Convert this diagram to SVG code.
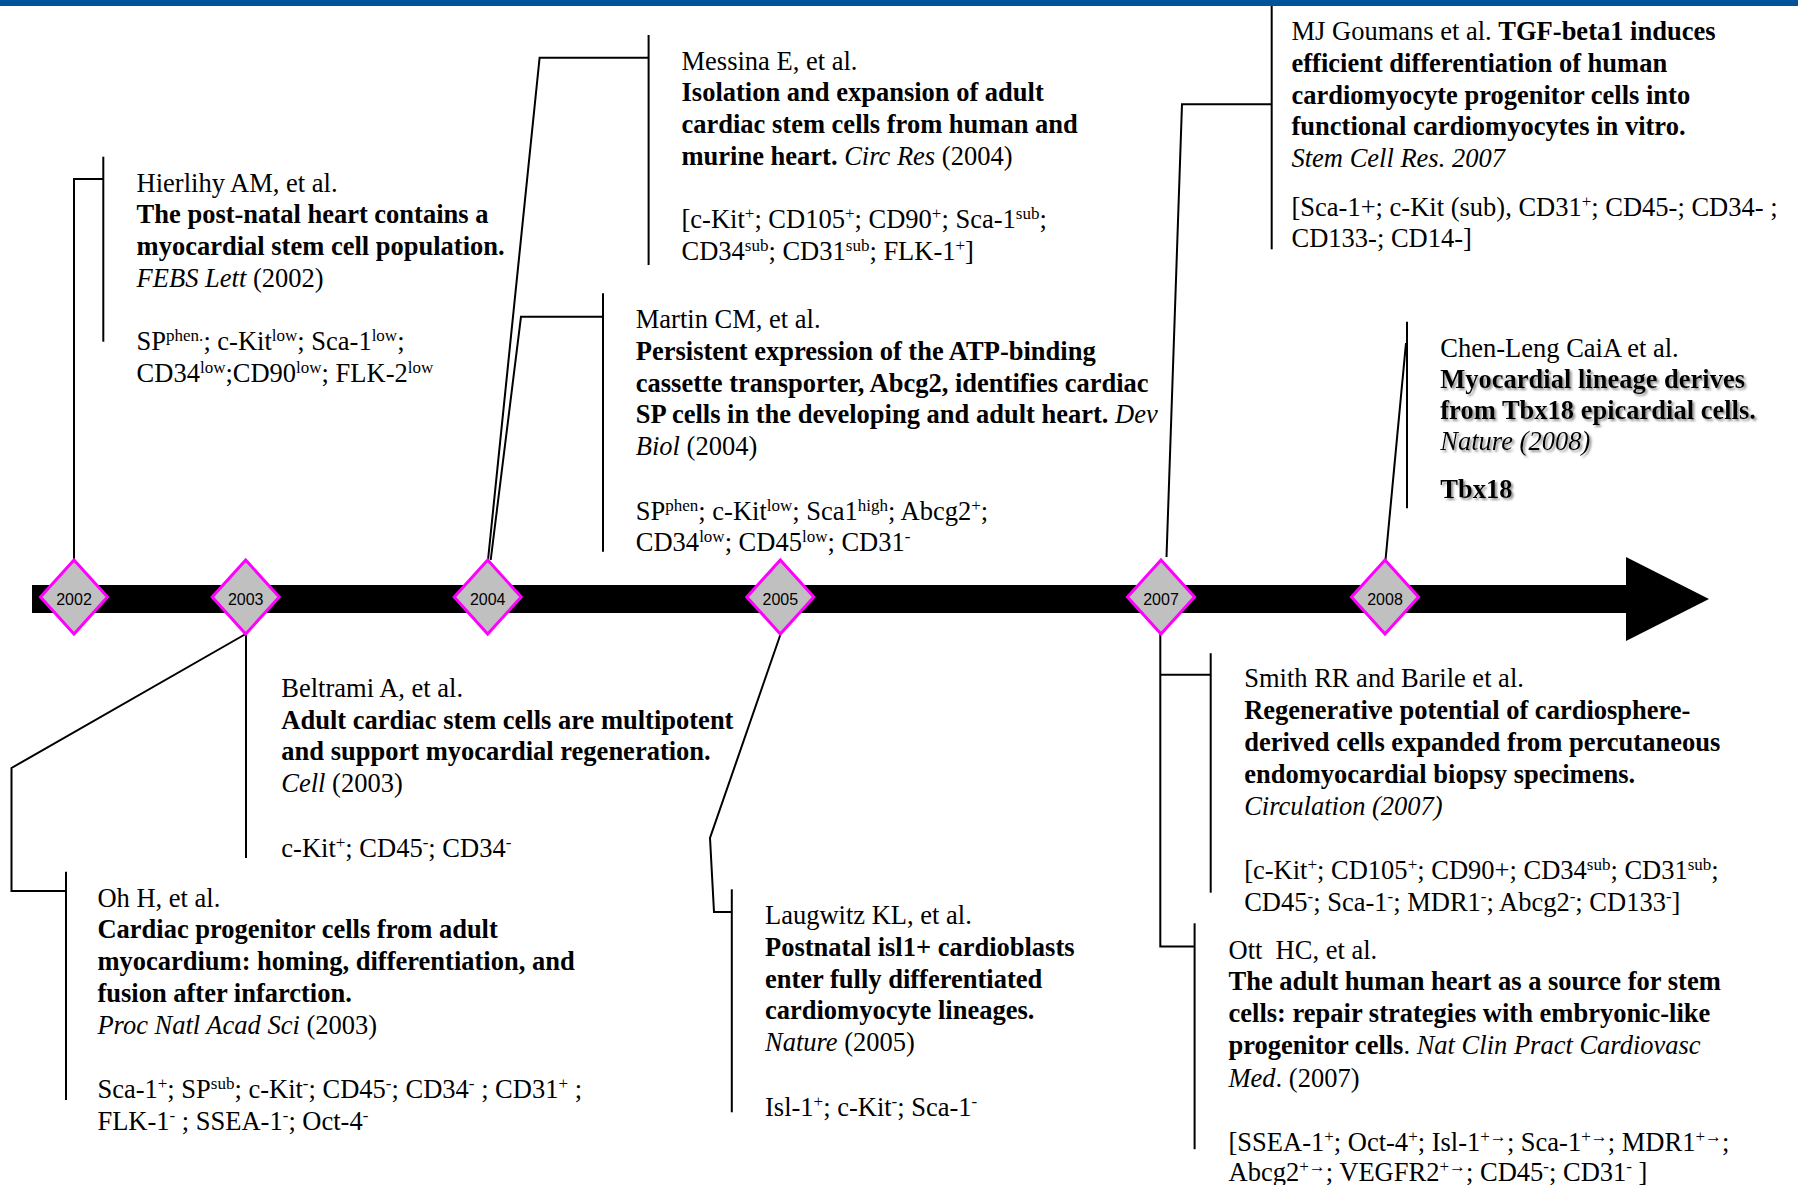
<svg xmlns="http://www.w3.org/2000/svg" xmlns:xlink="http://www.w3.org/1999/xlink" width="1798" height="1185" viewBox="0 0 1798 1185">
<style>
.t{font-family:"Liberation Serif","Times New Roman",serif;font-size:26.5px;fill:#000}
.b{font-weight:bold}
.i{font-style:italic}
.sup{font-size:17px;baseline-shift:9px}
.conn{fill:none;stroke:#000;stroke-width:2}
.dia{fill:#c0c0c0;stroke:#ff00ff;stroke-width:3}
.yr{font-family:"Liberation Sans",Arial,sans-serif;font-size:16px;text-anchor:middle;fill:#000}
.sh{filter:url(#shadow)}
</style>
<defs>
<polygon id="dm" points="0,-37 33.5,0 0,37 -33.5,0"/>
<filter id="shadow" x="-5%" y="-30%" width="110%" height="160%">
<feDropShadow dx="2" dy="2" stdDeviation="1" flood-color="#777" flood-opacity="0.8"/>
</filter>
</defs>
<rect x="0" y="0" width="1798" height="1185" fill="#fff"/>
<rect x="0" y="0" width="1798" height="6" fill="#00529b"/>

<g id="timeline">
<rect x="32" y="585" width="1594" height="28" fill="#000"/>
<polygon points="1626,557 1709,599 1626,641" fill="#000"/>
</g>

<g id="connectors">
<polyline class="conn" points="74,559 74,179 103.3,179"/>
<line class="conn" x1="103.3" y1="156.7" x2="103.3" y2="341.7"/>
<line class="conn" x1="246" y1="634" x2="246" y2="858"/>
<polyline class="conn" points="245.7,634 11.5,768 11.5,891 66,891"/>
<line class="conn" x1="66" y1="871.7" x2="66" y2="1100"/>
<polyline class="conn" points="488,560 539.6,57.7 648.6,57.7"/>
<line class="conn" x1="648.6" y1="35" x2="648.6" y2="265"/>
<polyline class="conn" points="490.7,560 521,316.7 603,316.7"/>
<line class="conn" x1="603" y1="293.3" x2="603" y2="551.7"/>
<polyline class="conn" points="782,630 710,838 714,912 731.8,912"/>
<line class="conn" x1="731.8" y1="889.3" x2="731.8" y2="1112.3"/>
<polyline class="conn" points="1166.5,557 1182,104.3 1271.7,104.3"/>
<line class="conn" x1="1271.7" y1="6" x2="1271.7" y2="249.3"/>
<polyline class="conn" points="1160.3,634 1160.3,946.6 1194.6,946.6"/>
<polyline class="conn" points="1160.3,674.8 1210.7,674.8"/>
<line class="conn" x1="1210.7" y1="653.2" x2="1210.7" y2="892.7"/>
<line class="conn" x1="1194.6" y1="923.3" x2="1194.6" y2="1149.2"/>
<line class="conn" x1="1385.5" y1="560" x2="1406" y2="343"/>
<line class="conn" x1="1407" y1="321.7" x2="1407" y2="508.3"/>
</g>

<g id="y2002"><use xlink:href="#dm" href="#dm" class="dia" x="74" y="597"/><text class="yr" x="74" y="605">2002</text></g>
<g id="y2003"><use xlink:href="#dm" href="#dm" class="dia" x="245.7" y="597"/><text class="yr" x="245.7" y="605">2003</text></g>
<g id="y2004"><use xlink:href="#dm" href="#dm" class="dia" x="487.7" y="597"/><text class="yr" x="487.7" y="605">2004</text></g>
<g id="y2005"><use xlink:href="#dm" href="#dm" class="dia" x="780.3" y="597"/><text class="yr" x="780.3" y="605">2005</text></g>
<g id="y2007"><use xlink:href="#dm" href="#dm" class="dia" x="1161" y="597"/><text class="yr" x="1161" y="605">2007</text></g>
<g id="y2008"><use xlink:href="#dm" href="#dm" class="dia" x="1385" y="597"/><text class="yr" x="1385" y="605">2008</text></g>

<g id="hierlihy" class="t" transform="translate(0 1.5)">
<text x="136.6" y="190">Hierlihy AM, et al.</text>
<text x="136.6" y="221.8" class="b">The post-natal heart contains a</text>
<text x="136.6" y="253.5" class="b">myocardial stem cell population.</text>
<text x="136.6" y="285.2"><tspan class="i">FEBS Lett</tspan> (2002)</text>
<text x="136.6" y="348.5">SP<tspan class="sup">phen.</tspan>; c-Kit<tspan class="sup">low</tspan>; Sca-1<tspan class="sup">low</tspan>;</text>
<text x="136.6" y="380.2">CD34<tspan class="sup">low</tspan>;CD90<tspan class="sup">low</tspan>; FLK-2<tspan class="sup">low</tspan></text>
</g>

<g id="messina" class="t" transform="translate(0 1.5)">
<text x="681.5" y="68">Messina E, et al.</text>
<text x="681.5" y="99.8" class="b">Isolation and expansion of adult</text>
<text x="681.5" y="131.5" class="b">cardiac stem cells from human and</text>
<text x="681.5" y="163.2"><tspan class="b">murine heart.</tspan> <tspan class="i">Circ Res</tspan> (2004)</text>
<text x="681.5" y="226.8">[c-Kit<tspan class="sup">+</tspan>; CD105<tspan class="sup">+</tspan>; CD90<tspan class="sup">+</tspan>; Sca-1<tspan class="sup">sub</tspan>;</text>
<text x="681.5" y="258.5">CD34<tspan class="sup">sub</tspan>; CD31<tspan class="sup">sub</tspan>; FLK-1<tspan class="sup">+</tspan>]</text>
</g>

<g id="martin" class="t" transform="translate(0 1.5)">
<text x="635.8" y="326.5">Martin CM, et al.</text>
<text x="635.8" y="358.2" class="b">Persistent expression of the ATP-binding</text>
<text x="635.8" y="390" class="b">cassette transporter, Abcg2, identifies cardiac</text>
<text x="635.8" y="421.8"><tspan class="b">SP cells in the developing and adult heart.</tspan> <tspan class="i">Dev</tspan></text>
<text x="635.8" y="453.5"><tspan class="i">Biol</tspan> (2004)</text>
<text x="635.8" y="518.3">SP<tspan class="sup">phen</tspan>; c-Kit<tspan class="sup">low</tspan>; Sca1<tspan class="sup">high</tspan>; Abcg2<tspan class="sup">+</tspan>;</text>
<text x="635.8" y="549">CD34<tspan class="sup">low</tspan>; CD45<tspan class="sup">low</tspan>; CD31<tspan class="sup">-</tspan></text>
</g>

<g id="goumans" class="t" transform="translate(0 2)">
<text x="1291.5" y="38.3">MJ Goumans et al. <tspan class="b">TGF-beta1 induces</tspan></text>
<text x="1291.5" y="70" class="b">efficient differentiation of human</text>
<text x="1291.5" y="101.7" class="b">cardiomyocyte progenitor cells into</text>
<text x="1291.5" y="133.3" class="b">functional cardiomyocytes in vitro.</text>
<text x="1291.5" y="165" class="i">Stem Cell Res. 2007</text>
<text x="1291.5" y="213.5">[Sca-1+; c-Kit (sub), CD31<tspan class="sup">+</tspan>; CD45-; CD34- ;</text>
<text x="1291.5" y="245.2">CD133-; CD14-]</text>
</g>

<g id="cai" class="t" transform="translate(0 1.5)">
<text x="1440.3" y="355.5">Chen-Leng CaiA et al.</text>
<text x="1440.3" y="386.5" class="b sh">Myocardial lineage derives</text>
<text x="1440.3" y="417.5" class="b sh">from Tbx18 epicardial cells.</text>
<text x="1440.3" y="448.5" class="i sh">Nature (2008)</text>
<text x="1440.3" y="496" class="b sh">Tbx18</text>
</g>

<g id="beltrami" class="t" transform="translate(0 1.5)">
<text x="281.3" y="695">Beltrami A, et al.</text>
<text x="281.3" y="727" class="b">Adult cardiac stem cells are multipotent</text>
<text x="281.3" y="758.7" class="b">and support myocardial regeneration.</text>
<text x="281.3" y="790.5"><tspan class="i">Cell</tspan> (2003)</text>
<text x="281.3" y="855">c-Kit<tspan class="sup">+</tspan>; CD45<tspan class="sup">-</tspan>; CD34<tspan class="sup">-</tspan></text>
</g>

<g id="oh" class="t" transform="translate(0 1.5)">
<text x="97.4" y="905">Oh H, et al.</text>
<text x="97.4" y="936.7" class="b">Cardiac progenitor cells from adult</text>
<text x="97.4" y="968.5" class="b">myocardium: homing, differentiation, and</text>
<text x="97.4" y="1000.3" class="b">fusion after infarction.</text>
<text x="97.4" y="1032.2"><tspan class="i">Proc Natl Acad Sci</tspan> (2003)</text>
<text x="97.4" y="1096.5">Sca-1<tspan class="sup">+</tspan>; SP<tspan class="sup">sub</tspan>; c-Kit<tspan class="sup">-</tspan>; CD45<tspan class="sup">-</tspan>; CD34<tspan class="sup">-</tspan> ; CD31<tspan class="sup">+</tspan> ;</text>
<text x="97.4" y="1128">FLK-1<tspan class="sup">-</tspan> ; SSEA-1<tspan class="sup">-</tspan>; Oct-4<tspan class="sup">-</tspan></text>
</g>

<g id="laugwitz" class="t" transform="translate(0 1.5)">
<text x="765" y="922.5">Laugwitz KL, et al.</text>
<text x="765" y="954.2" class="b">Postnatal isl1+ cardioblasts</text>
<text x="765" y="986" class="b">enter fully differentiated</text>
<text x="765" y="1017.7" class="b">cardiomyocyte lineages.</text>
<text x="765" y="1049.5"><tspan class="i">Nature</tspan> (2005)</text>
<text x="765" y="1114.5">Isl-1<tspan class="sup">+</tspan>; c-Kit<tspan class="sup">-</tspan>; Sca-1<tspan class="sup">-</tspan></text>
</g>

<g id="smith" class="t" transform="translate(0 1)">
<text x="1244.2" y="686">Smith RR and Barile et al.</text>
<text x="1244.2" y="718" class="b">Regenerative potential of cardiosphere-</text>
<text x="1244.2" y="750" class="b">derived cells expanded from percutaneous</text>
<text x="1244.2" y="782" class="b">endomyocardial biopsy specimens.</text>
<text x="1244.2" y="813.5" class="i">Circulation (2007)</text>
<text x="1244.2" y="878">[c-Kit<tspan class="sup">+</tspan>; CD105<tspan class="sup">+</tspan>; CD90+; CD34<tspan class="sup">sub</tspan>; CD31<tspan class="sup">sub</tspan>;</text>
<text x="1244.2" y="910">CD45<tspan class="sup">-</tspan>; Sca-1<tspan class="sup">-</tspan>; MDR1<tspan class="sup">-</tspan>; Abcg2<tspan class="sup">-</tspan>; CD133<tspan class="sup">-</tspan>]</text>
</g>

<g id="ott" class="t" transform="translate(0 1)">
<text x="1228.5" y="957.5">Ott&#160; HC, et al.</text>
<text x="1228.5" y="989" class="b">The adult human heart as a source for stem</text>
<text x="1228.5" y="1021" class="b">cells: repair strategies with embryonic-like</text>
<text x="1228.5" y="1053"><tspan class="b">progenitor cells</tspan>. <tspan class="i">Nat Clin Pract Cardiovasc</tspan></text>
<text x="1228.5" y="1085.5"><tspan class="i">Med</tspan>. (2007)</text>
<text x="1228.5" y="1150">[SSEA-1<tspan class="sup">+</tspan>; Oct-4<tspan class="sup">+</tspan>; Isl-1<tspan class="sup">+→</tspan>; Sca-1<tspan class="sup">+→</tspan>; MDR1<tspan class="sup">+→</tspan>;</text>
<text x="1228.5" y="1180">Abcg2<tspan class="sup">+→</tspan>; VEGFR2<tspan class="sup">+→</tspan>; CD45<tspan class="sup">-</tspan>; CD31<tspan class="sup">-</tspan> ]</text>
</g>
</svg>
